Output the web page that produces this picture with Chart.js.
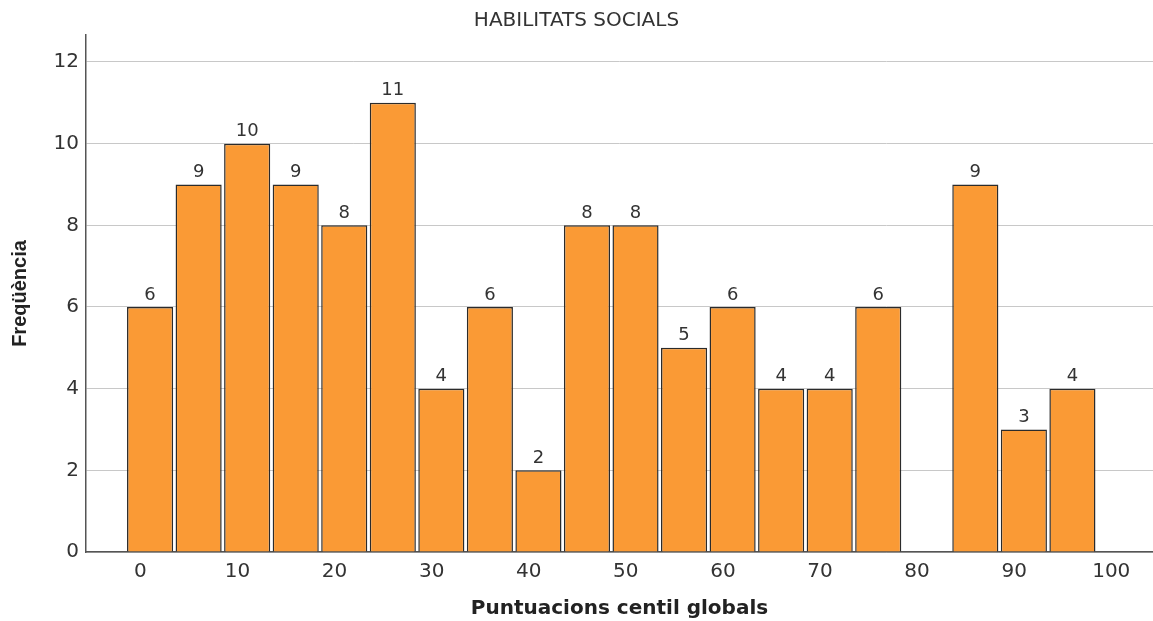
<!DOCTYPE html>
<html lang="ca">
<head>
  <meta charset="UTF-8" />
  <title>HABILITATS SOCIALS</title>
  <style>
    html, body { margin: 0; padding: 0; background: #fff; }
    .chart-box { width: 1153px; height: 621px; }
  </style>
</head>
<body>
  <div class="chart-box"><canvas id="histChart"></canvas></div>

  <script src="https://cdn.jsdelivr.net/npm/chart.js@4.4.1/dist/chart.umd.min.js"></script>
  <script>
    // bin centres (5-point bins) and frequencies
    const binCenters = [1, 6, 11, 16, 21, 26, 31, 36, 41, 46, 51, 56, 61, 66, 71, 76, 81, 86, 91, 96];
    const frequencies = [6, 9, 10, 9, 8, 11, 4, 6, 2, 8, 8, 5, 6, 4, 4, 6, 0, 9, 3, 4];
    const xTicks = [0, 10, 20, 30, 40, 50, 60, 70, 80, 90, 100];
    const yTicks = [0, 2, 4, 6, 8, 10, 12];

    const points = binCenters.map((c, i) => ({ x: c, y: frequencies[i] }));

    // draws the count above each bar
    const barLabels = {
      id: 'barLabels',
      afterDatasetsDraw(chart) {
        const ctx = chart.ctx;
        const meta = chart.getDatasetMeta(0);
        ctx.save();
        ctx.font = '18px "DejaVu Sans", Verdana, sans-serif';
        ctx.fillStyle = '#333';
        ctx.textAlign = 'center';
        ctx.textBaseline = 'bottom';
        meta.data.forEach((bar, i) => {
          const v = frequencies[i];
          if (!v) return;
          ctx.fillText(String(v), bar.x, bar.y - 3);
        });
        ctx.restore();
      }
    };

    new Chart(document.getElementById('histChart'), {
      type: 'bar',
      data: {
        datasets: [{
          data: points,
          backgroundColor: '#fa9a35',
          borderColor: '#2b2b2b',
          borderWidth: 1.5,
          barPercentage: 0.95,
          categoryPercentage: 1
        }]
      },
      options: {
        responsive: true,
        maintainAspectRatio: false,
        animation: false,
        layout: { padding: { left: 0, right: 0, top: 0, bottom: 0 } },
        plugins: {
          legend: { display: false },
          tooltip: { enabled: false },
          title: {
            display: true,
            text: 'HABILITATS SOCIALS',
            color: '#333',
            font: { family: '"DejaVu Sans", Verdana, sans-serif', size: 20, weight: 'normal' },
            padding: { top: 9, bottom: 2 }
          }
        },
        scales: {
          x: {
            type: 'linear',
            offset: false,
            min: -5.6,
            max: 104.3,
            afterBuildTicks: s => { s.ticks = xTicks.map(v => ({ value: v })); },
            afterFit: s => { s.height = 69; },
            grid: { display: false, drawTicks: false, offset: false },
            border: { color: '#555', width: 1.5 },
            ticks: {
              color: '#333',
              padding: 8,
              maxRotation: 0,
              font: { family: '"DejaVu Sans", Verdana, sans-serif', size: 20 }
            },
            title: {
              display: true,
              text: 'Puntuacions centil globals',
              color: '#222',
              font: { family: '"DejaVu Sans", Verdana, sans-serif', size: 20, weight: 'bold' },
              padding: { top: 6, bottom: 0 }
            }
          },
          y: {
            min: 0,
            max: 12.66,
            afterBuildTicks: s => { s.ticks = yTicks.map(v => ({ value: v })); },
            afterFit: s => { s.width = 86; },
            grid: { color: '#c8c8c8', lineWidth: 1, drawTicks: false },
            border: { color: '#555', width: 1.5 },
            ticks: {
              color: '#333',
              padding: 7,
              font: { family: '"DejaVu Sans", Verdana, sans-serif', size: 20 }
            },
            title: {
              display: true,
              text: 'Freqüència',
              color: '#222',
              font: { family: '"Liberation Sans", Arial, sans-serif', size: 20, weight: 'bold' },
              padding: { top: 8, bottom: 4 }
            }
          }
        }
      },
      plugins: [barLabels]
    });
  </script>
</body>
</html>
